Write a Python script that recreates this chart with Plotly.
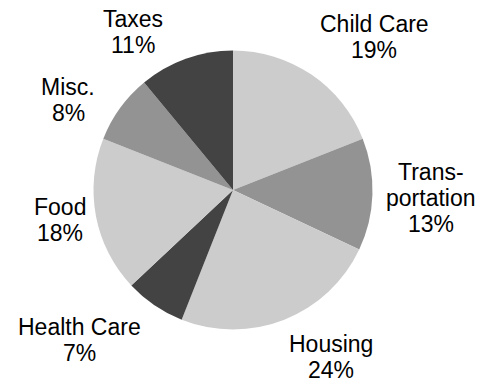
import plotly.graph_objects as go

# Monthly budget shares (percent), clockwise from 12 o'clock
categories = ["Child Care", "Transportation", "Housing", "Health Care", "Food", "Misc.", "Taxes"]
label_lines = [["Child Care"], ["Trans-", "portation"], ["Housing"], ["Health Care"], ["Food"], ["Misc."], ["Taxes"]]
shares = [19, 13, 24, 7, 18, 8, 11]
slice_colors = ["#cccccc", "#939393", "#cccccc", "#434343", "#cccccc", "#939393", "#434343"]

W, H = 482, 381
FONT = dict(family="Liberation Sans, Arial, sans-serif", size=23, color="black")
LINE_STEP = 26  # px between text baselines

# Label block placement in pixels: centre x and first-line baseline
label_anchor_px = {
    "Child Care": (374, 32),
    "Transportation": (431, 180),
    "Housing": (331, 352),
    "Health Care": (79, 335),
    "Food": (60, 215),
    "Misc.": (68, 95),
    "Taxes": (133, 27),
}

fig = go.Figure(
    go.Pie(
        labels=categories,
        values=shares,
        sort=False,
        direction="clockwise",
        rotation=0,
        marker=dict(colors=slice_colors, line=dict(width=0)),
        textinfo="none",
        showlegend=False,
        hoverinfo="label+percent",
        domain=dict(x=[93.5 / W, 372.5 / W], y=[(H - 329.5) / H, (H - 50.5) / H]),
    )
)

annotations = []
for name, lines, value in zip(categories, label_lines, shares):
    cx, base = label_anchor_px[name]
    for i, line in enumerate(lines + [f"{value}%"]):
        baseline = base + i * LINE_STEP
        annotations.append(
            dict(
                x=cx / W,
                y=1 - (baseline - 0.35 * FONT["size"]) / H,
                xref="paper",
                yref="paper",
                xanchor="center",
                yanchor="middle",
                text=line,
                showarrow=False,
                font=FONT,
            )
        )

fig.update_layout(
    width=W,
    height=H,
    margin=dict(l=0, r=0, t=0, b=0),
    paper_bgcolor="white",
    plot_bgcolor="white",
    annotations=annotations,
)

fig.write_html("out.html")
